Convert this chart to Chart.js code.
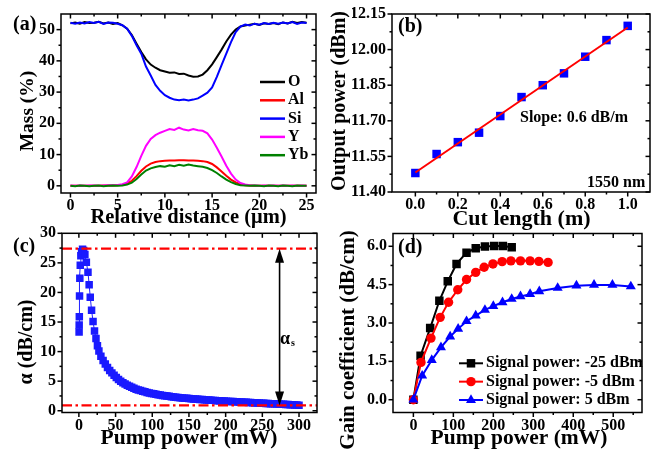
<!DOCTYPE html>
<html>
<head>
<meta charset="utf-8">
<script src="https://cdn.jsdelivr.net/npm/chart.js@4.4.1/dist/chart.umd.min.js"></script>
<style>
html, body { margin: 0; padding: 0; background: #fff; }
#wrap { position: relative; width: 660px; height: 452px; overflow: hidden; background: #fff; }
#wrap canvas { position: absolute; left: 0; top: 0; }
</style>
</head>
<body>
<div id="wrap">
  <canvas id="ca" width="660" height="452"></canvas>
  <canvas id="cb" width="660" height="452"></canvas>
  <canvas id="cc" width="660" height="452"></canvas>
  <canvas id="cd" width="660" height="452"></canvas>
</div>
<script>
// ---------- (a) EDS line scan across the core ----------
const distance = [0,0.5,1,1.5,2,2.5,3,3.5,4,4.5,5,5.5,6,6.5,7,7.5,8,8.5,9,9.5,10,10.5,11,11.5,12,12.5,13,13.5,14,14.5,15,15.5,16,16.5,17,17.5,18,18.5,19,19.5,20,20.5,21,21.5,22,22.5,23,23.5,24,24.5,25];
const massO = [52.0,52.3,51.9,52.4,52.1,52.2,52.5,52.0,52.3,51.8,52.1,
  51.4,50.3,48.3,45.5,42.8,40.5,38.8,37.8,37.0,36.6,
  36.2,36.3,35.8,35.9,35.3,34.9,35.0,35.6,37.0,38.9,
  41.2,43.6,46.2,48.4,50.0,51.0,51.3,51.6,51.9,51.5,
  52.0,51.8,52.1,51.7,52.3,52.0,52.5,52.1,52.4,52.2];
const massAl = [0.0,0.0,0.0,0.0,0.0,0.0,0.0,0.1,0.1,0.1,0.2,
  0.3,0.7,1.6,3.1,4.8,6.2,7.1,7.6,7.9,8.0,
  8.1,8.1,8.2,8.2,8.1,8.1,8.0,7.9,7.6,7.0,
  5.9,4.6,3.2,2.0,1.1,0.5,0.2,0.1,0.0,0.0,
  0.0,0.0,0.0,0.0,0.0,0.0,0.0,0.0,0.0,0.0];
const massSi = [52.2,51.9,52.3,52.0,52.4,52.1,52.5,51.8,52.3,52.2,51.9,
  51.4,50.3,48.0,45.0,42.3,38.2,35.3,32.3,30.4,29.0,
  28.2,27.6,27.4,27.6,27.3,27.6,28.0,28.9,29.8,31.5,
  34.9,38.6,42.3,46.0,49.2,51.0,51.6,51.3,51.9,51.6,
  52.1,51.8,52.2,51.9,52.3,52.0,52.4,51.8,52.3,52.1];
const massY = [0.1,0.0,0.1,0.0,0.1,0.1,0.0,0.1,0.2,0.2,0.3,
  0.5,1.1,3.0,6.0,9.6,12.8,15.0,16.2,17.0,17.6,
  18.2,17.9,18.6,18.0,17.7,18.2,17.8,17.6,16.8,14.8,
  12.2,9.4,6.4,3.9,2.0,0.9,0.4,0.2,0.1,0.0,
  0.1,0.0,0.1,0.0,0.1,0.0,0.1,0.0,0.1,0.0];
const massYb = [0.0,-0.1,0.1,0.0,-0.1,0.0,0.1,-0.1,0.0,0.1,0.0,
  0.1,0.4,1.0,2.2,3.6,4.9,5.6,6.0,6.3,6.1,
  6.6,6.3,6.7,6.4,6.8,6.5,6.3,6.1,5.7,5.0,
  4.1,3.0,2.0,1.2,0.6,0.2,0.1,0.0,0.1,0.0,
  -0.1,0.1,0.0,-0.1,0.1,0.0,-0.1,0.1,0.0,0.0];
const elements = ['O', 'Al', 'Si', 'Y', 'Yb'];
const xTicksA = [0, 5, 10, 15, 20, 25];
const yTicksA = [0, 10, 20, 30, 40, 50];

// ---------- (b) cut-back measurement at 1550 nm ----------
const cutLength = [0, 0.1, 0.2, 0.3, 0.4, 0.5, 0.6, 0.7, 0.8, 0.9, 1.0];
const outputPower = [11.48, 11.56, 11.61, 11.65, 11.72, 11.80, 11.85, 11.90, 11.97, 12.04, 12.10];
const fitLength = [0, 1.0];
const fitPower = [11.482, 12.093];
const xTicksB = [0, 0.2, 0.4, 0.6, 0.8, 1.0];
const yTicksB = [11.40, 11.55, 11.70, 11.85, 12.00, 12.15];

// ---------- (c) absorption vs pump power ----------
const pumpC = [0.3,0.4,0.6,0.9,1.3,1.9,2.7,3.7,5.0,6.5,8.2,10.2,12.4,14.0,15.5,17.3,19.3,21.3,23.3,25.3,27.3,
  30,33,36,39,42,45,48,51,54,57,
  60,63,66,69,72,75,78,81,84,87,
  90,93,96,99,102,105,108,111,114,117,
  120,123,126,129,132,135,138,141,144,147,
  150,153,156,159,162,165,168,171,174,177,
  180,183,186,189,192,195,198,201,204,207,
  210,213,216,219,222,225,228,231,234,237,
  240,243,246,249,252,255,258,261,264,267,
  270,273,276,279,282,285,288,291,294,297,
  300];
const alphaC = [13.3,14.5,15.9,19.4,22.4,24.6,26.2,26.9,27.3,27.1,26.4,25.1,23.4,21.3,19.2,17.0,15.1,13.5,12.2,11.0,10.1,
  9.2,8.5,7.9,7.3,6.8,6.4,6.0,5.6,5.3,5.0,
  4.75,4.52,4.31,4.12,3.95,3.79,3.65,3.52,3.40,3.29,
  3.19,3.10,3.01,2.93,2.85,2.78,2.71,2.65,2.59,2.53,
  2.48,2.43,2.38,2.33,2.29,2.25,2.21,2.17,2.13,2.09,
  2.06,2.03,2.00,1.97,1.94,1.91,1.88,1.85,1.82,1.80,
  1.77,1.75,1.72,1.70,1.67,1.65,1.63,1.61,1.58,1.56,
  1.54,1.52,1.50,1.48,1.46,1.44,1.42,1.40,1.38,1.36,
  1.34,1.32,1.30,1.28,1.26,1.24,1.22,1.20,1.18,1.16,
  1.14,1.12,1.10,1.08,1.06,1.04,1.02,1.00,0.98,0.96,
  0.94];
const alphaLevels = [27.4, 0.9];   // peak absorption and saturated residual
const arrowPump = 273.5;
const xTicksC = [0, 50, 100, 150, 200, 250, 300];
const yTicksC = [0, 5, 10, 15, 20, 25, 30];

// ---------- (d) gain coefficient vs pump power ----------
const signalLabels = ['Signal power: -25 dBm', 'Signal power: -5 dBm', 'Signal power: 5 dBm'];
const pumpLow = [0, 18, 42, 65, 86, 108, 133, 156, 179, 202, 224, 246];
const gainLow = [0, 1.72, 2.80, 3.87, 4.63, 5.31, 5.75, 5.92, 5.99, 6.01, 6.01, 5.96];
const pumpMid = [0, 19, 44, 67, 88, 111, 133, 156, 177, 199, 222, 244, 268, 292, 314, 337];
const gainMid = [0, 1.46, 2.41, 3.22, 3.81, 4.30, 4.70, 4.98, 5.18, 5.31, 5.40, 5.43, 5.43, 5.43, 5.41, 5.37];
const pumpHigh = [0, 22, 46, 69, 92, 112, 133, 156, 179, 200, 223, 246, 268, 292, 315, 361, 408, 452, 498, 544];
const gainHigh = [0, 0.94, 1.55, 2.05, 2.47, 2.77, 3.07, 3.29, 3.51, 3.66, 3.81, 3.94, 4.04, 4.13, 4.24, 4.37, 4.46, 4.49, 4.49, 4.43];
const xTicksD = [0, 100, 200, 300, 400, 500];
const yTicksD = [0, 1.5, 3.0, 4.5, 6.0];

// ---------- shared helpers ----------
const FONT = '"Liberation Serif", "Times New Roman", Times, serif';
const bold = (px) => 'bold ' + px + 'px ' + FONT;
const W = 660, H = 452, YAXIS_W = 40, XAXIS_H = 30;

const pts = (xs, ys) => xs.map((x, i) => ({ x: x, y: ys[i] }));

function axis(min, max, values, fmt, isY) {
  return {
    type: 'linear', min: min, max: max,
    grid: { display: false, drawTicks: false },
    border: { display: false },
    ticks: {
      color: '#000', autoSkip: false, maxRotation: 0, minRotation: 0,
      padding: isY ? 6 : 5,
      font: { family: FONT, size: 16, weight: 'bold', lineHeight: 1 },
      callback: (v) => fmt(v)
    },
    afterBuildTicks: (s) => { s.ticks = values.map((v) => ({ value: v })); },
    afterFit: (s) => { if (isY) s.width = YAXIS_W; else s.height = XAXIS_H; }
  };
}

function drawText(ctx, str, x, y, size, o) {
  o = o || {};
  ctx.save();
  ctx.font = bold(size);
  ctx.fillStyle = o.color || '#000';
  ctx.textAlign = o.align || 'left';
  ctx.textBaseline = o.base || 'alphabetic';
  ctx.translate(x, y);
  if (o.rot) ctx.rotate(o.rot);
  ctx.fillText(str, 0, 0);
  ctx.restore();
}

function drawMarker(ctx, style, x, y, r, color) {
  ctx.save();
  ctx.fillStyle = color;
  ctx.beginPath();
  if (style === 'rect') {
    const s = r * Math.SQRT1_2;
    ctx.rect(x - s, y - s, 2 * s, 2 * s);
  } else if (style === 'circle') {
    ctx.arc(x, y, r, 0, Math.PI * 2);
  } else {
    ctx.moveTo(x, y - r);
    ctx.lineTo(x + r * Math.sin(2 * Math.PI / 3), y - r * Math.cos(2 * Math.PI / 3));
    ctx.lineTo(x + r * Math.sin(4 * Math.PI / 3), y - r * Math.cos(4 * Math.PI / 3));
    ctx.closePath();
  }
  ctx.fill();
  ctx.restore();
}

// Boxed frame with outward ticks on left/bottom and mirrored inward ticks on top/right
const frame = {
  id: 'frame',
  afterDatasetsDraw(chart) {
    const ctx = chart.ctx, a = chart.chartArea;
    const seg = (x1, y1, x2, y2) => { ctx.beginPath(); ctx.moveTo(x1, y1); ctx.lineTo(x2, y2); ctx.stroke(); };
    const marks = (scale) => {
      const vals = scale.ticks.map((t) => t.value);
      const step = vals[1] - vals[0];
      const out = vals.map((v) => [scale.getPixelForValue(v), 4.5]);
      for (let i = -1; i < vals.length; i++) out.push([scale.getPixelForValue(vals[0] + (i + 0.5) * step), 2.5]);
      return out;
    };
    ctx.save();
    ctx.strokeStyle = '#000';
    ctx.lineWidth = 1.5;
    marks(chart.scales.x).forEach(([p, len]) => {
      if (p < a.left - 0.5 || p > a.right + 0.5) return;
      if (len < 3 && (p < a.left + 3 || p > a.right - 3)) return;
      seg(p, a.bottom, p, a.bottom + len);
      seg(p, a.top, p, a.top + len);
    });
    marks(chart.scales.y).forEach(([p, len]) => {
      if (p < a.top - 0.5 || p > a.bottom + 0.5) return;
      if (len < 3 && (p < a.top + 3 || p > a.bottom - 3)) return;
      seg(a.left - len, p, a.left, p);
      seg(a.right, p, a.right - len, p);
    });
    ctx.strokeRect(a.left, a.top, a.right - a.left, a.bottom - a.top);
    ctx.restore();
  }
};

function makeChart(id, plot, scales, datasets, decor) {
  return new Chart(document.getElementById(id), {
    type: 'line',
    data: { datasets: datasets },
    options: {
      responsive: false, animation: false, devicePixelRatio: 1, events: [],
      layout: { padding: { left: plot.l - YAXIS_W, top: plot.t, right: W - plot.r, bottom: H - plot.b - XAXIS_H } },
      scales: scales,
      plugins: { legend: { display: false }, tooltip: { enabled: false } }
    },
    plugins: [decor, frame]
  });
}

// ---------- (a) ----------
const colorsA = ['#000000', '#ff0000', '#0000ff', '#ff00ff', '#008000'];
const seriesA = [massO, massAl, massSi, massY, massYb];
makeChart('ca', { l: 61, t: 13.3, r: 316, b: 193 },
  {
    x: axis(-1, 26, xTicksA, (v) => String(v), false),
    y: axis(-2.3, 55, yTicksA, (v) => String(v), true)
  },
  seriesA.map((vals, i) => ({
    label: elements[i], data: pts(distance, vals),
    borderColor: colorsA[i], borderWidth: 2, pointRadius: 0, tension: 0,
    order: seriesA.length - i
  })),
  {
    id: 'decorA',
    afterDraw(chart) {
      const ctx = chart.ctx;
      drawText(ctx, '(a)', 13, 30, 20);
      drawText(ctx, 'Relative distance (\u03bcm)', 188.5, 218, 20.5, { align: 'center', base: 'middle' });
      drawText(ctx, 'Mass (%)', 27.5, 111, 19.5, { align: 'center', base: 'middle', rot: -Math.PI / 2 });
      chart.data.datasets.forEach((ds, i) => {
        const y = 82 + 18.3 * i;
        ctx.save();
        ctx.strokeStyle = ds.borderColor;
        ctx.lineWidth = 2.5;
        ctx.beginPath(); ctx.moveTo(260, y); ctx.lineTo(285, y); ctx.stroke();
        ctx.restore();
        drawText(ctx, ds.label, 288, y, 16, { base: 'middle' });
      });
    }
  });

// ---------- (b) ----------
makeChart('cb', { l: 392, t: 13.5, r: 650, b: 192 },
  {
    x: axis(-0.11, 1.105, xTicksB, (v) => v.toFixed(1), false),
    y: axis(11.40, 12.15, yTicksB, (v) => v.toFixed(2), true)
  },
  [
    { label: 'fit', data: pts(fitLength, fitPower), borderColor: '#ff0000', borderWidth: 2, pointRadius: 0, order: 0 },
    { label: 'measured', data: pts(cutLength, outputPower), showLine: false, pointStyle: 'rect',
      pointRadius: 6, pointBackgroundColor: '#0000ff', pointBorderWidth: 0, borderColor: '#0000ff', order: 1 }
  ],
  {
    id: 'decorB',
    afterDraw(chart) {
      const ctx = chart.ctx;
      drawText(ctx, '(b)', 398, 32, 20);
      drawText(ctx, 'Slope: 0.6 dB/m', 520, 121.5, 16);
      drawText(ctx, '1550 nm', 587, 187, 16);
      drawText(ctx, 'Cut length (m)', 521.5, 219.5, 22, { align: 'center', base: 'middle' });
      drawText(ctx, 'Output power (dBm)', 340, 101, 20, { align: 'center', base: 'middle', rot: -Math.PI / 2 });
    }
  });

// ---------- (c) ----------
makeChart('cc', { l: 62, t: 233.3, r: 317, b: 412.5 },
  {
    x: axis(-23, 324.5, xTicksC, (v) => String(v), false),
    y: axis(-0.3, 30, yTicksC, (v) => String(v), true)
  },
  [
    { label: 'alpha', data: pts(pumpC, alphaC), borderColor: '#2020ff', borderWidth: 1,
      pointStyle: 'rect', pointRadius: 5.3, pointBackgroundColor: '#1a1aff', pointBorderWidth: 0, tension: 0 }
  ],
  {
    id: 'decorC',
    afterDatasetsDraw(chart) {
      const ctx = chart.ctx, a = chart.chartArea, sy = chart.scales.y, sx = chart.scales.x;
      ctx.save();
      ctx.strokeStyle = '#ff0000';
      ctx.lineWidth = 2.2;
      ctx.setLineDash([10, 3.5, 2.5, 3.5]);
      alphaLevels.forEach((lv) => {
        const y = sy.getPixelForValue(lv);
        ctx.beginPath(); ctx.moveTo(a.left, y); ctx.lineTo(a.right, y); ctx.stroke();
      });
      ctx.restore();
      // double-headed arrow spanning the saturable part of the absorption
      const x = sx.getPixelForValue(arrowPump);
      const y1 = sy.getPixelForValue(alphaLevels[0]);
      const y2 = sy.getPixelForValue(alphaLevels[1]);
      const hl = 14, hw = 4.5;
      ctx.save();
      ctx.strokeStyle = '#000'; ctx.fillStyle = '#000'; ctx.lineWidth = 1.6;
      ctx.beginPath(); ctx.moveTo(x, y1 + hl - 2); ctx.lineTo(x, y2 - hl + 2); ctx.stroke();
      ctx.beginPath(); ctx.moveTo(x, y1); ctx.lineTo(x - hw, y1 + hl); ctx.lineTo(x + hw, y1 + hl); ctx.closePath(); ctx.fill();
      ctx.beginPath(); ctx.moveTo(x, y2); ctx.lineTo(x - hw, y2 - hl); ctx.lineTo(x + hw, y2 - hl); ctx.closePath(); ctx.fill();
      ctx.restore();
    },
    afterDraw(chart) {
      const ctx = chart.ctx;
      drawText(ctx, '(c)', 13, 252, 20);
      drawText(ctx, '\u03b1', 280, 343.5, 18);
      drawText(ctx, 's', 291, 346, 10);
      drawText(ctx, 'Pump power (mW)', 189, 438, 21.5, { align: 'center', base: 'middle' });
      drawText(ctx, '\u03b1 (dB/cm)', 26.5, 342, 20, { align: 'center', base: 'middle', rot: -Math.PI / 2 });
    }
  });

// ---------- (d) ----------
const stylesD = [
  { color: '#000000', style: 'rect', r: 6 },
  { color: '#ff0000', style: 'circle', r: 4.7 },
  { color: '#0000ff', style: 'triangle', r: 5.8 }
];
const seriesD = [pts(pumpLow, gainLow), pts(pumpMid, gainMid), pts(pumpHigh, gainHigh)];
makeChart('cd', { l: 393, t: 233.5, r: 642, b: 412.5 },
  {
    x: axis(-51, 572, xTicksD, (v) => String(v), false),
    y: axis(-0.5, 6.5, yTicksD, (v) => v.toFixed(1), true)
  },
  seriesD.map((data, i) => ({
    label: signalLabels[i], data: data,
    borderColor: stylesD[i].color, borderWidth: 2, tension: 0,
    pointStyle: stylesD[i].style, pointRadius: stylesD[i].r,
    pointBackgroundColor: stylesD[i].color, pointBorderWidth: 0,
    order: seriesD.length - i
  })),
  {
    id: 'decorD',
    afterDraw(chart) {
      const ctx = chart.ctx;
      drawText(ctx, '(d)', 398, 253, 20);
      signalLabels.forEach((lab, i) => {
        const y = 363.3 + 18.35 * i;
        ctx.save();
        ctx.strokeStyle = stylesD[i].color;
        ctx.lineWidth = 2;
        ctx.beginPath(); ctx.moveTo(459, y); ctx.lineTo(483, y); ctx.stroke();
        ctx.restore();
        drawMarker(ctx, stylesD[i].style, 471, y, stylesD[i].r, stylesD[i].color);
        drawText(ctx, lab, 486, y, 16, { base: 'middle' });
      });
      drawText(ctx, 'Pump power (mW)', 519, 438, 21.5, { align: 'center', base: 'middle' });
      drawText(ctx, 'Gain coefficient (dB/cm)', 349, 340, 21, { align: 'center', base: 'middle', rot: -Math.PI / 2 });
    }
  });
</script>
</body>
</html>
